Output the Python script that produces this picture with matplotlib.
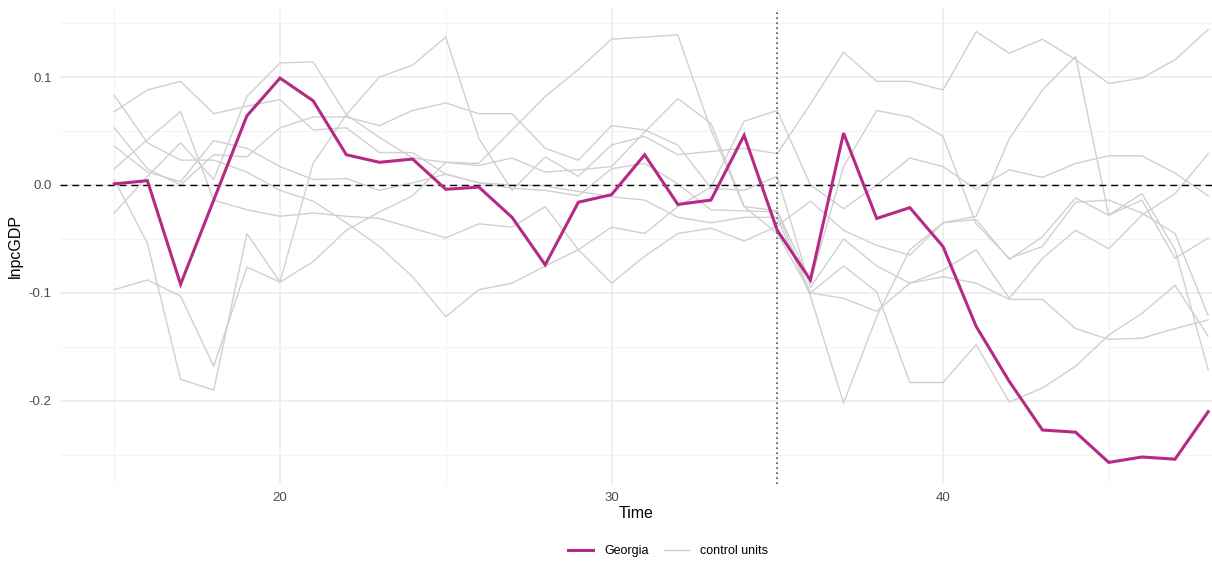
import matplotlib
matplotlib.use("Agg")
import matplotlib.pyplot as plt
from matplotlib.lines import Line2D
import numpy as np

plt.rcParams['font.family'] = ['Liberation Sans', 'DejaVu Sans']

# yearly series, 15..48
years = list(range(15, 49))

georgia = [0.001, 0.004, -0.092, -0.014, 0.064, 0.099, 0.078, 0.028, 0.021, 0.024,
           -0.004, -0.002, -0.030, -0.074, -0.016, -0.009, 0.028, -0.018, -0.014, 0.046,
           -0.042, -0.088, 0.048, -0.031, -0.021, -0.057, -0.131, -0.182, -0.227, -0.229,
           -0.257, -0.252, -0.254, -0.210]

unit_a = [-0.097, -0.088, -0.103, -0.168, -0.076, -0.090, 0.020, 0.065, 0.100, 0.111,
          0.137, 0.043, -0.005, 0.026, 0.008, 0.037, 0.045, 0.028, 0.031, 0.034,
          0.029, 0.075, 0.123, 0.096, 0.096, 0.088, 0.142, 0.122, 0.135, 0.116,
          0.094, 0.099, 0.116, 0.144]
unit_b = [0.068, 0.088, 0.096, 0.066, 0.073, 0.079, 0.051, 0.053, 0.030, 0.030,
          0.010, 0.002, -0.003, -0.005, -0.010, 0.015, 0.020, 0.001, -0.023, -0.024,
          -0.025, -0.100, -0.105, -0.117, -0.091, -0.085, -0.091, -0.106, -0.106, -0.133,
          -0.143, -0.142, -0.133, -0.125]
unit_c = [0.015, 0.042, 0.068, -0.014, -0.023, -0.029, -0.026, -0.029, -0.031, -0.040,
          -0.049, -0.036, -0.039, -0.020, -0.060, -0.039, -0.045, -0.020, -0.002, 0.059,
          0.069, 0.000, -0.022, 0.000, 0.025, 0.017, -0.004, 0.014, 0.007, 0.020,
          0.027, 0.027, 0.011, -0.010]
unit_d = [0.005, -0.054, -0.180, -0.190, -0.045, -0.090, -0.071, -0.042, -0.025, -0.010,
          0.021, 0.020, 0.051, 0.082, 0.107, 0.135, 0.137, 0.139, 0.051, -0.020,
          -0.045, -0.100, -0.075, -0.099, -0.183, -0.183, -0.148, -0.201, -0.188, -0.168,
          -0.139, -0.119, -0.093, -0.140]
unit_e = [0.053, 0.015, 0.000, 0.028, 0.026, 0.053, 0.063, 0.063, 0.055, 0.069,
          0.076, 0.066, 0.066, 0.034, 0.023, 0.055, 0.051, 0.037, -0.003, -0.005,
          0.008, -0.095, -0.050, -0.075, -0.091, -0.079, -0.060, -0.105, -0.068, -0.042,
          -0.059, -0.028, -0.008, 0.029]
unit_f = [0.083, 0.039, 0.023, 0.023, 0.012, -0.005, -0.015, -0.035, -0.057, -0.085,
          -0.122, -0.097, -0.091, -0.075, -0.060, -0.091, -0.066, -0.045, -0.040, -0.052,
          -0.038, -0.015, -0.042, -0.056, -0.065, -0.035, -0.032, -0.069, -0.048, -0.012,
          -0.028, -0.008, -0.060, -0.171]
unit_g = [0.036, 0.012, 0.003, 0.041, 0.034, 0.017, 0.005, 0.006, -0.005, 0.002,
          0.010, 0.002, 0.000, -0.001, -0.006, -0.011, -0.014, -0.030, -0.035, -0.030,
          -0.030, -0.103, -0.202, -0.122, -0.060, -0.035, -0.029, 0.043, 0.088, 0.119,
          -0.028, -0.014, -0.068, -0.049]
unit_h = [-0.026, 0.008, 0.039, 0.005, 0.082, 0.113, 0.114, 0.065, 0.044, 0.025,
          0.021, 0.018, 0.025, 0.012, 0.014, 0.017, 0.049, 0.080, 0.057, -0.020,
          -0.024, -0.090, 0.017, 0.069, 0.063, 0.045, -0.036, -0.068, -0.057, -0.016,
          -0.014, -0.026, -0.045, -0.121]

controls = [unit_a, unit_b, unit_c, unit_d, unit_e, unit_f, unit_g, unit_h]
treat_year = 35

fig = plt.figure(figsize=(12.12, 5.61), dpi=100)
ax = fig.add_axes([60 / 1212, 1 - 484 / 561, 1 - 60 / 1212, 475 / 561])

for s in controls:
    ax.plot(years, s, color='#d0d0d0', lw=1.0, zorder=2)
ax.plot(years, georgia, color='#B52A82', lw=2.2, zorder=4, solid_joinstyle='miter')

ax.axhline(0, color='black', lw=1.0, ls=(0, (5, 3.5)), zorder=3)
ax.axvline(treat_year, color='#555555', lw=1.2, ls=(0, (1, 2)), zorder=3)

ax.set_xlim(13.363, 48.115)
ax.set_ylim(-0.277, 0.163)

ax.set_xticks([20, 30, 40])
ax.set_xticks([15, 25, 35, 45], minor=True)
ax.set_yticks([-0.2, -0.1, 0.0, 0.1])
ax.set_yticklabels(['-0.2', '-0.1', '0.0', '0.1'])
ax.set_yticks([-0.25, -0.15, -0.05, 0.05, 0.15], minor=True)
ax.grid(which='major', color='#ebebeb', lw=1.1, zorder=0)
ax.grid(which='minor', color='#f3f3f3', lw=0.8, zorder=0)
ax.tick_params(which='both', length=0, labelsize=9.5, labelcolor='#4d4d4d')
ax.tick_params(axis='x', pad=6)
ax.tick_params(axis='y', pad=6)
for sp in ax.spines.values():
    sp.set_visible(False)

ax.set_xlabel('Time', fontsize=11.5, labelpad=1)
ax.set_ylabel('lnpcGDP', fontsize=11.5, labelpad=4)

handles = [Line2D([], [], color='#B52A82', lw=2.2),
           Line2D([], [], color='#d0d0d0', lw=1.0)]
fig.legend(handles, ['Georgia', 'control units'], loc='center',
           bbox_to_anchor=(668 / 1212, 1 - 551 / 561), ncol=2, frameon=False,
           fontsize=9, handlelength=2.0, columnspacing=1.2, handletextpad=0.9)

fig.savefig('out.png', dpi=100)
